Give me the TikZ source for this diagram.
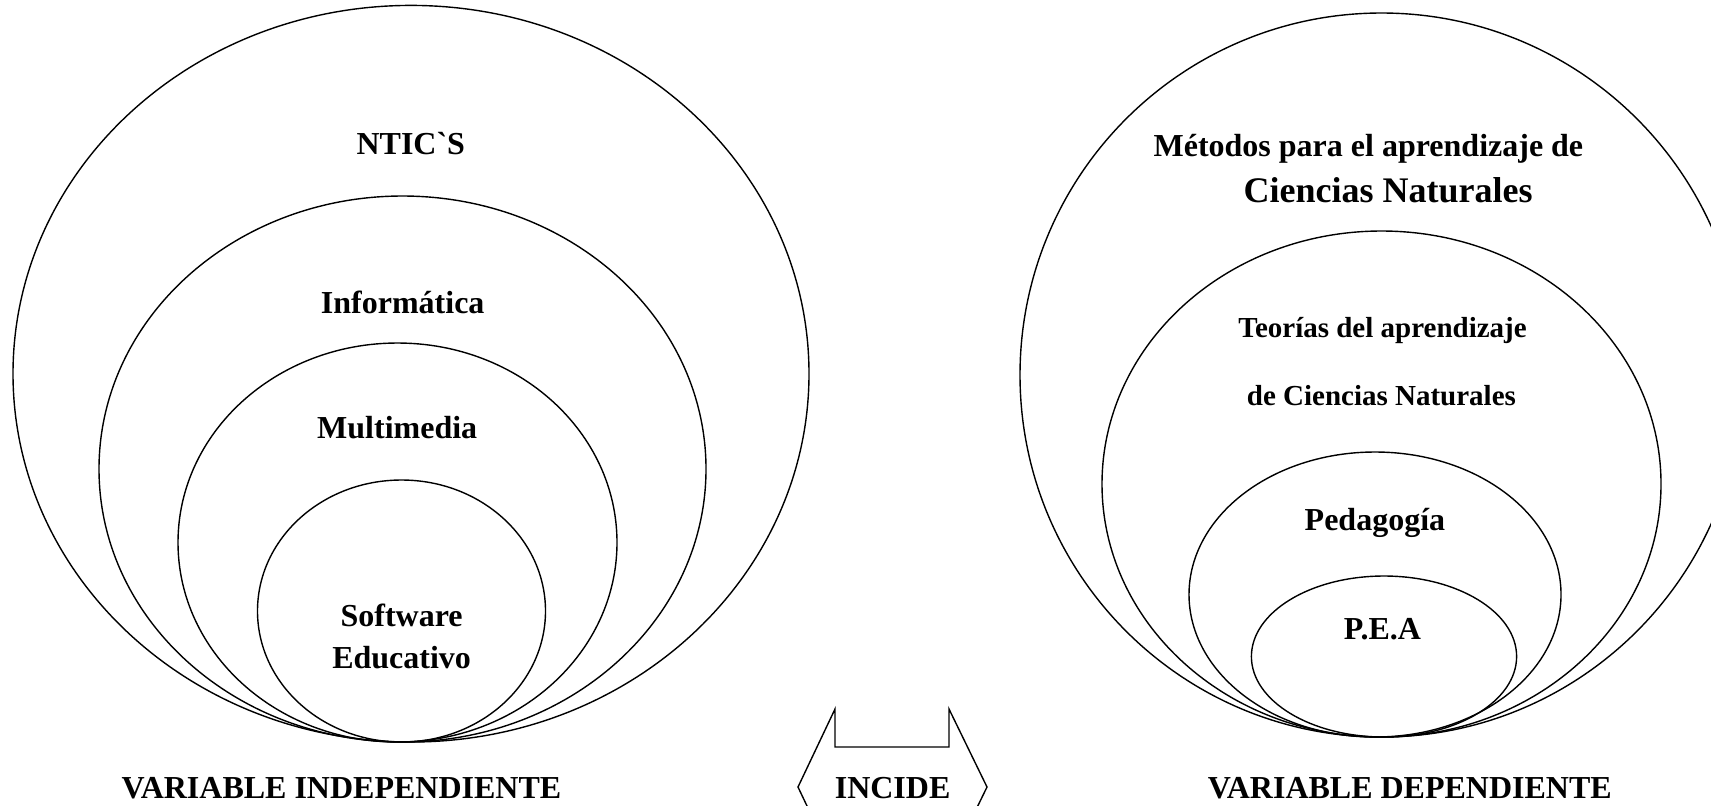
\documentclass[tikz,border=0pt]{standalone}
\usepackage{fontspec}
\setmainfont{Liberation Serif}
\usepackage{tikz}

\tikzset{
	ring/.style={line width=0.7pt},
	lbl/.style={font=\fontsize{16}{21}\selectfont\bfseries, align=center, inner sep=0pt},
	lblwide/.style={font=\fontsize{18}{21}\selectfont\bfseries, align=center, inner sep=0pt},
	lblsmall/.style={font=\fontsize{14.5}{18}\selectfont\bfseries, align=center, inner sep=0pt}
}

\begin{document}
\begin{tikzpicture}[x=0.5pt,y=-0.5pt]
	\useasboundingbox (0,0) rectangle (1711,805);
	\clip (0,0) rectangle (1711,805);
	% independiente
	\draw[ring] (411,373.7) ellipse [x radius=398, y radius=368.3];
	\draw[ring] (402.5,469) ellipse [x radius=303.5, y radius=273];
	\draw[ring] (397.5,542.5) ellipse [x radius=219.5, y radius=199.5];
	\draw[ring] (401.5,611) ellipse [x radius=144, y radius=131];
	\node[lbl] (ntics) at (410.8,144) {NTIC\textasciigrave S};
	\node[lbl] (informatica) at (402.7,302) {Informática};
	\node[lbl] (multimedia) at (397.2,427.8) {Multimedia};
	\node[lbl] (software) at (401.6,636) {Software\\Educativo};
	% dependiente
	\draw[ring] (1381.5,375) ellipse [x radius=361.5, y radius=362];
	\draw[ring] (1381.5,484) ellipse [x radius=279.5, y radius=253];
	\draw[ring] (1375,594.5) ellipse [x radius=186, y radius=142.5];
	\draw[ring] (1384,656.5) ellipse [x radius=132.6, y radius=80.5];
	\node[lbl] (metodos) at (1368.4,148.4) {Métodos para el aprendizaje de};
	\node[lblwide] (ciencias) at (1388,190) {Ciencias Naturales};
	\node[lblsmall] (teorias) at (1382.5,330.6) {Teorías del aprendizaje};
	\node[lblsmall] (teoriasb) at (1381.4,396) {de Ciencias Naturales};
	\node[lbl] (pedagogia) at (1374.9,522.7) {Pedagogía};
	\node[lbl] (pea) at (1382.5,629.6) {P.E.A};
	% incide
	\draw[ring] (835,709) -- (835,747) -- (949,747) -- (949,709) -- (987,787) -- (949,865)
		-- (949,827) -- (835,827) -- (835,865) -- (798,787) -- cycle;
	\node[lbl] (incide) at (892.6,788.5) {INCIDE};
	\node[lbl] (vind) at (341.5,788.5) {VARIABLE INDEPENDIENTE};
	\node[lbl] (vdep) at (1409.8,788.5) {VARIABLE DEPENDIENTE};
\end{tikzpicture}
\end{document}
